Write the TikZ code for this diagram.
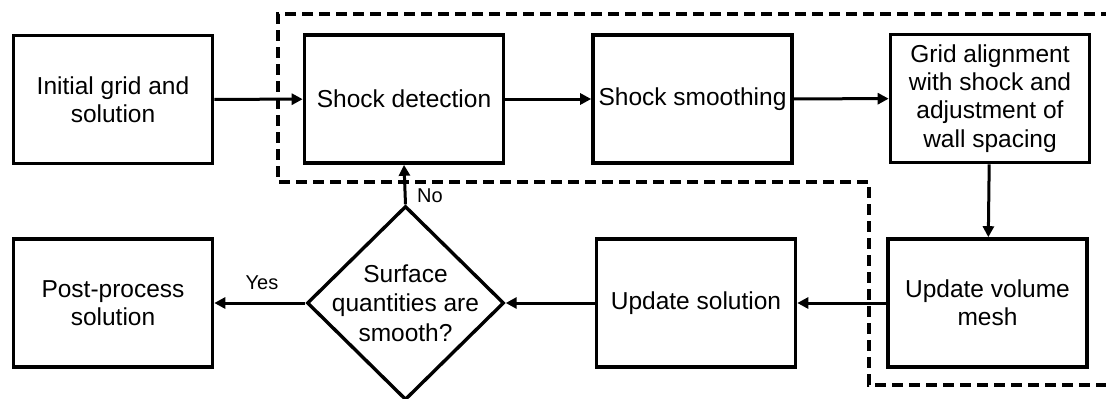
\documentclass[tikz,border=0pt]{standalone}
\usepackage{fontspec}
\setmainfont{Liberation Sans}
\usetikzlibrary{shapes.geometric,arrows.meta}
\begin{document}
\begin{tikzpicture}[x=1pt,y=-1pt,
  stepbox/.style={draw,line width=3.6pt,rectangle,minimum width=199pt,minimum height=128pt,align=center,inner sep=0pt,font=\fontsize{24.5}{28.3}\selectfont},
  decision/.style={draw,line width=3.4pt,diamond,minimum width=197pt,minimum height=194pt,inner sep=0pt},
  flow/.style={line width=3pt,-{Triangle[length=11pt,width=11pt]}},
  lbl/.style={font=\fontsize{20}{24}\selectfont,inner sep=0pt},
  boundary/.style={line width=3.4pt,dash pattern=on 11pt off 6pt}]
\useasboundingbox (0,0) rectangle (1106,399);
\fill[white] (0,0) rectangle (1106,399);
\draw[boundary] (1112,14) -- (278,14) -- (278,182) -- (869,182) -- (869,385) -- (1112,385);
\node[stepbox] (init) at (113,99.5) {Initial grid and\\solution};
\node[stepbox] (detect) at (404,99) {Shock detection};
\node[stepbox] (smooth) at (692.5,99) {Shock smoothing};
\node[stepbox] (grid) at (990,98.5) {Grid alignment\\with shock and\\adjustment of\\wall spacing};
\node[stepbox] (volume) at (987.5,303) {Update volume\\mesh};
\node[stepbox] (upsol) at (696,303) {Update solution};
\node[decision] (dec) at (405.5,303) {};
\node[align=center,inner sep=0pt,font=\fontsize{24.5}{29.5}\selectfont] (dectext) at (dec.center) {Surface\\quantities are\\smooth?};
\node[stepbox] (post) at (113,303) {Post-process\\solution};
\draw[flow] (init) -- (detect);
\draw[flow] (detect) -- (smooth);
\draw[flow] (smooth) -- (grid);
\draw[flow] (grid) -- (volume);
\draw[flow] (volume) -- (upsol);
\draw[flow] (upsol) -- (dec.east);
\draw[flow] (dec.west) -- (post);
\draw[flow] (dec.north) -- (detect.south);
\node[lbl] (no) at (430,196) {No};
\node[lbl] (yes) at (262,283) {Yes};
\end{tikzpicture}
\end{document}
